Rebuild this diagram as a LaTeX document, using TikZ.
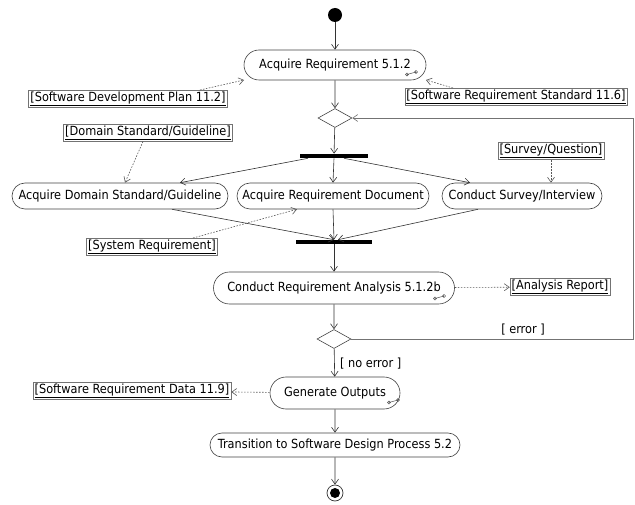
\documentclass[tikz,border=0pt]{standalone}
\usepackage{fontspec}
\setmainfont{DejaVu Sans Condensed}
\usetikzlibrary{arrows.meta,shapes.misc,shapes.geometric}
\begin{document}
\begin{tikzpicture}[x=1pt,y=-1pt,
  font=\fontsize{12.6}{14}\selectfont,
  line width=0.6pt,
  flow/.style={draw=black!80,-{Straight Barb[length=5pt,width=7pt]}},
  dep/.style={draw=black!65,dash pattern=on 1.6pt off 1.4pt,-{Straight Barb[length=5pt,width=7pt]}},
  act/.style={rounded rectangle,draw=black!75,inner sep=0pt,minimum height=#1},
  act/.default=26pt,
  obj/.style={draw=black!55,inner sep=1.6pt,rectangle},
  decision/.style={diamond,draw=black!75,inner sep=0pt,minimum width=34pt,minimum height=19pt,aspect=1.8},
  bar/.style={fill=black,inner sep=0pt,minimum height=4pt}
]
\useasboundingbox (0,0) rectangle (635,505);

% icon for activities that expand into sub-activities
\newcommand{\subicon}[2]{%
  \draw[black!70,line width=0.5pt] ({#1-5},{#2+1.5}) circle (1.6pt)
    -- ({#1+4},{#2-1}) circle (1.6pt);}

% initial and final nodes
\node[circle,fill=black,minimum size=14pt,inner sep=0pt] (start) at (335,15) {};
\node[circle,draw=black!80,line width=0.7pt,minimum size=16pt,inner sep=0pt] (stop) at (335,493) {};
\node[circle,fill=black,minimum size=10pt,inner sep=0pt] at (stop) {};

% activities
\node[act=30pt,minimum width=182pt] (acq) at (335,65) {\raisebox{2pt}{Acquire Requirement 5.1.2}};
\node[decision] (d1) at (335,118) {};
\node[bar,minimum width=68pt] (fork) at (334,156) {};
\node[act,minimum width=216pt] (dom) at (120,196) {Acquire Domain Standard/Guideline};
\node[act,minimum width=192pt] (doc) at (333,196) {Acquire Requirement Document};
\node[act,minimum width=160pt] (srv) at (522,196) {Conduct Survey/Interview};
\node[bar,minimum width=76pt] (join) at (334,242) {};
\node[act=32pt,minimum width=241pt] (cra) at (334,288) {\raisebox{3pt}{Conduct Requirement Analysis 5.1.2b}};
\node[decision] (d2) at (334,339) {};
\node[act=32pt,minimum width=130pt] (gen) at (335,393) {\raisebox{3pt}{Generate Outputs}};
\node[act=24pt,minimum width=250pt] (trn) at (335,445) {Transition to Software Design Process 5.2};

\subicon{412}{73}
\subicon{440}{297}
\subicon{394}{401}

% objects
\node[obj] (sdp) at (128,99) {\underline{[Software Development Plan 11.2]}};
\node[obj] (srs) at (516,97) {\underline{[Software Requirement Standard 11.6]}};
\node[obj] (dsg) at (148,133) {\underline{[Domain Standard/Guideline]}};
\node[obj] (sq) at (551,151) {\underline{[Survey/Question]}};
\node[obj] (sr) at (152,247) {\underline{[System Requirement]}};
\node[obj] (ar) at (560,287) {\underline{[Analysis Report]}};
\node[obj] (srd) at (132,391) {\underline{[Software Requirement Data 11.9]}};

% control flow
\draw[flow] (start) -- (acq);
\draw[flow] (acq) -- (d1);
\draw[flow] (d1) -- (fork);
\draw[flow] ([xshift=-26pt]fork.south) -- ([xshift=60pt]dom.north);
\draw[flow] (fork.south) -- (doc.north);
\draw[flow] ([xshift=10pt]fork.south) -- ([xshift=-52pt]srv.north);
\draw[flow] ([xshift=52pt]dom.south) -- (join.north);
\draw[flow] (doc.south) -- (join.north);
\draw[flow] ([xshift=-44pt]srv.south) -- ([xshift=4pt]join.north);
\draw[flow] (join) -- (cra);
\draw[flow] (cra) -- (d2);
\draw[flow] (d2) -- node[right,xshift=2pt,yshift=-1pt] {[ no error ]} (gen);
\draw[flow] (gen) -- (trn);
\draw[flow] (trn) -- (stop);

% loop back on error
\coordinate (loopx) at (633,0);
\draw[flow,draw=black!55] (d2.east) -- (d2.east -| loopx) |- (d1.east);
\node at (523,330) {[ error ]};

% object flows
\draw[dep] ([xshift=72pt]sdp.north) -- ([xshift=-91pt,yshift=-15pt]acq.center);
\draw[dep] ([xshift=-63pt]srs.north) -- ([xshift=91pt,yshift=-15pt]acq.center);
\draw[dep] ([xshift=-5pt]dsg.south) -- ([xshift=5pt]dom.north);
\draw[dep] (sq) -- (sq |- srv.north);
\draw[dep] ([xshift=41pt]sr.north) -- ([xshift=-36pt]doc.south);
\draw[dep] (cra) -- (ar);
\draw[dep] (gen) -- (srd);
\end{tikzpicture}
\end{document}
